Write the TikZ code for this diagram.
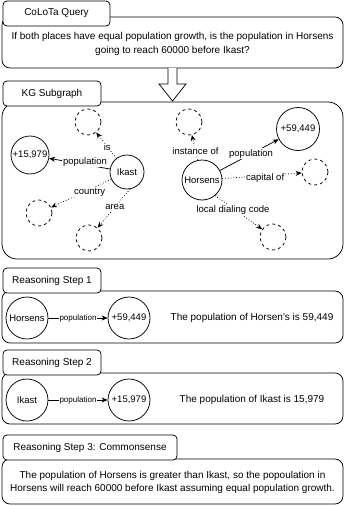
\documentclass[tikz,border=0pt]{standalone}
\usepackage{fontspec}
\setmainfont{Liberation Sans}
\usepackage{tikz}
\usetikzlibrary{arrows.meta}

\begin{document}
\begin{tikzpicture}[x=1pt,y=-1pt,line width=0.75pt,
    panel/.style={draw,fill=white,rounded corners=8pt},
    onglet/.style={draw,fill=white,rounded corners=4pt,minimum height=25pt,inner sep=0pt,font=\fontsize{10}{12}\selectfont},
    ent/.style={draw,circle,inner sep=0pt,font=\fontsize{9.5}{11}\selectfont},
    vide/.style={draw,circle,dashed,minimum size=26pt,inner sep=0pt},
    rel/.style={-{Stealth[length=6pt,width=5pt]}},
    relinc/.style={rel,dotted},
    lbl/.style={fill=white,inner sep=1pt,font=\fontsize{9.5}{11}\selectfont},
    txt/.style={align=center,font=\fontsize{10}{14}\selectfont}]
  \useasboundingbox (0,0) rectangle (345,506);
  % question
  \draw[panel] (2,17) rectangle (343,68);
  \node[onglet,minimum width=107pt] (qtab) at (56.5,13.5) {CoLoTa Query};
  \node[txt] (question) at (172.5,44) {If both places have equal population growth, is the population in Horsens\\going to reach 60000 before Ikast?};
  % fleche creuse
  \draw[fill=white] (168,68) -- (168,84) -- (159,84) -- (172.5,101) -- (186,84) -- (177,84) -- (177,68);
  % sous-graphe KG
  \draw[panel,rounded corners=15pt] (2,102) rectangle (343,259);
  \node[onglet,minimum width=98pt] (kgtab) at (52,93.5) {KG Subgraph};
  \node[ent,minimum size=34pt] (ikast) at (127,172) {Ikast};
  \node[ent,minimum size=38pt] (popI) at (30,155) {+15,979};
  \node[vide] (iIs) at (88,122) {};
  \node[vide] (iPays) at (39,213) {};
  \node[vide] (iAire) at (89,238) {};
  \node[ent,minimum size=40pt] (horsens) at (202,180) {Horsens};
  \node[ent,minimum size=43pt] (popH) at (298,129) {+59,449};
  \node[vide] (hInst) at (189,122) {};
  \node[vide] (hCap) at (315,172) {};
  \node[vide] (hInd) at (273,237) {};
  \draw[rel] (ikast) -- node[lbl,pos=0.41,yshift=3pt] {population} (popI);
  \draw[relinc] (ikast) -- node[lbl,pos=0.45] {is} (iIs);
  \draw[relinc] (ikast) -- node[lbl,pos=0.36,yshift=-3pt] {country} (iPays);
  \draw[relinc] (ikast.-80) -- node[lbl,pos=0.47] {area} (iAire);
  \draw[relinc] (horsens) -- node[lbl,pos=0.37] {instance of} (hInst);
  \draw[rel] (horsens) -- node[lbl,pos=0.53] {population} (popH);
  \draw[relinc] (horsens) -- node[lbl,pos=0.54,yshift=-3pt] {capital of} (hCap);
  \draw[relinc] (horsens.-50) -- node[lbl,pos=0.38,yshift=-2pt] {local dialing code} (hInd);
  % etape 1
  \draw[panel] (2,291) rectangle (343,343);
  \node[onglet,minimum width=98pt] (tab1) at (52,280.5) {Reasoning Step 1};
  \node[ent,minimum size=42pt] (s1h) at (27,318) {Horsens};
  \node[ent,minimum size=42pt] (s1p) at (129,318) {+59,449};
  \draw[rel] (s1h) -- node[lbl,font=\fontsize{8}{9}\selectfont] {population} (s1p);
  \node[txt] (s1txt) at (252,318) {The population of Horsen's is 59,449};
  % etape 2
  \draw[panel] (2,373) rectangle (343,424);
  \node[onglet,minimum width=98pt] (tab2) at (52,362.5) {Reasoning Step 2};
  \node[ent,minimum size=42pt] (s2i) at (27,400) {Ikast};
  \node[ent,minimum size=42pt] (s2p) at (129,400) {+15,979};
  \draw[rel] (s2i) -- node[lbl,font=\fontsize{8}{9}\selectfont] {population} (s2p);
  \node[txt] (s2txt) at (252,400) {The population of Ikast is 15,979};
  % etape 3
  \draw[panel] (2,459) rectangle (343,504);
  \node[onglet,minimum width=174pt] (tab3) at (90,447.5) {Reasoning Step 3: Commonsense};
  \node[txt,font=\fontsize{10}{13}\selectfont] (s3txt) at (172.5,482) {The population of Horsens is greater than Ikast, so the popoulation in\\Horsens will reach 60000 before Ikast assuming equal population growth.};
\end{tikzpicture}
\end{document}
